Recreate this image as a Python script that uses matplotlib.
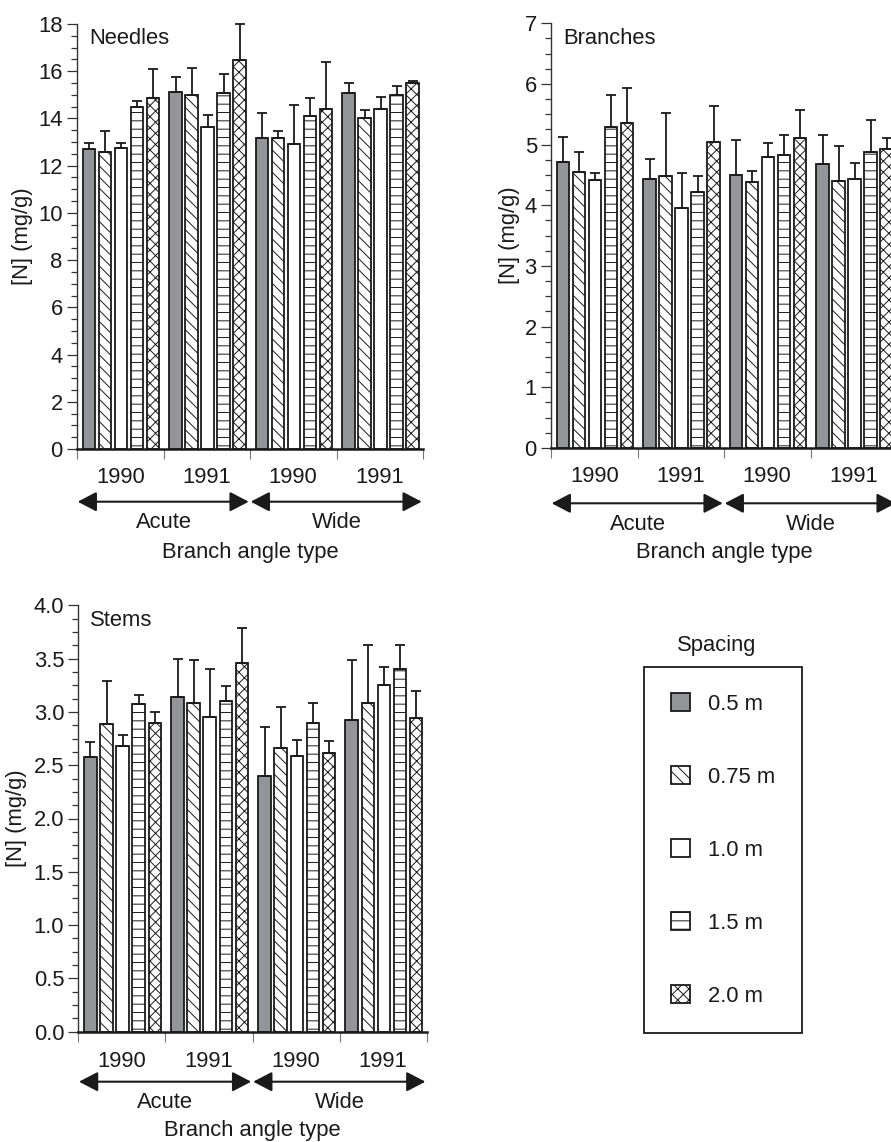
import matplotlib.pyplot as plt
import numpy as np
from matplotlib.ticker import MultipleLocator, FormatStrFormatter

plt.rcParams['font.family'] = ['Liberation Sans', 'DejaVu Sans']
plt.rcParams['hatch.linewidth'] = 0.7

# groups along x: Acute 1990, Acute 1991, Wide 1990, Wide 1991
years = ['1990', '1991', '1990', '1991']
angle_types = ['Acute', 'Wide']
spacings = ['0.5 m', '0.75 m', '1.0 m', '1.5 m', '2.0 m']

# one row per spacing, one value per group
needles_mean = [[12.70, 15.10, 13.19, 15.07],
                [12.60, 15.00, 13.19, 14.01],
                [12.73, 13.63, 12.90, 14.39],
                [14.50, 15.08, 14.12, 15.01],
                [14.86, 16.49, 14.42, 15.49]]
needles_err = [[0.27, 0.67, 1.05, 0.45],
               [0.85, 1.12, 0.26, 0.34],
               [0.25, 0.53, 1.67, 0.51],
               [0.23, 0.82, 0.76, 0.38],
               [1.25, 1.51, 1.98, 0.10]]

branches_mean = [[4.71, 4.43, 4.50, 4.68],
                 [4.55, 4.49, 4.38, 4.40],
                 [4.41, 3.96, 4.80, 4.43],
                 [5.29, 4.22, 4.83, 4.88],
                 [5.36, 5.04, 5.11, 4.93]]
branches_err = [[0.42, 0.33, 0.58, 0.48],
                [0.33, 1.03, 0.19, 0.57],
                [0.12, 0.57, 0.22, 0.27],
                [0.52, 0.27, 0.33, 0.53],
                [0.57, 0.60, 0.46, 0.18]]

stems_mean = [[2.58, 3.14, 2.40, 2.92],
              [2.89, 3.08, 2.66, 3.08],
              [2.68, 2.95, 2.59, 3.25],
              [3.07, 3.10, 2.90, 3.40],
              [2.90, 3.46, 2.61, 2.94]]
stems_err = [[0.14, 0.36, 0.46, 0.57],
             [0.40, 0.41, 0.39, 0.55],
             [0.10, 0.45, 0.15, 0.17],
             [0.09, 0.14, 0.18, 0.23],
             [0.10, 0.33, 0.12, 0.26]]

fills = ['#939598', 'white', 'white', 'white', 'white']
hatches = [None, '\\\\\\', None, '--', 'xxx']
INK = '#1a1a1a'
FS = 15.8

W, H = 891, 1142
fig = plt.figure(figsize=(W / 100, H / 100), dpi=100)


def px_axes(left, right, top, bottom):
    return fig.add_axes([left / W, 1 - bottom / H, (right - left) / W, (bottom - top) / H])


def draw_panel(ax, means, errs, ymax, major, minor, fmt, title, ylab_x, offs):
    bars = []
    for k in range(5):
        x = np.arange(4) + 0.139 + k * 0.185
        b = ax.bar(x, means[k], width=0.145, color=fills[k], hatch=hatches[k],
                   edgecolor=INK, linewidth=1.3, label=spacings[k], zorder=2)
        bars.append(b)
        ax.errorbar(x, means[k], yerr=[np.zeros(4), errs[k]], fmt='none', ecolor=INK,
                    elinewidth=1.3, capsize=3.6, capthick=1.3, zorder=3, clip_on=False)
    ax.set_xlim(0, 4)
    ax.set_ylim(0, ymax)
    for s in ['top', 'right']:
        ax.spines[s].set_visible(False)
    ax.spines['left'].set_linewidth(1.0)
    ax.spines['left'].set_color('#333333')
    ax.spines['bottom'].set_linewidth(1.8)
    ax.spines['bottom'].set_color(INK)

    ax.yaxis.set_major_locator(MultipleLocator(major))
    ax.yaxis.set_minor_locator(MultipleLocator(minor))
    ax.yaxis.set_major_formatter(FormatStrFormatter(fmt))
    ax.tick_params(axis='y', which='major', length=7.5, width=0.9, color='#333333',
                   labelsize=FS, labelcolor=INK, pad=2.7)
    ax.tick_params(axis='y', which='minor', length=4.3, width=0.9, color='#333333')
    ax.set_xticks(range(5))
    ax.set_xticklabels([])
    ax.tick_params(axis='x', length=7.5, width=0.8, color='#777777')

    ax.set_ylabel('[N] (mg/g)', fontsize=FS, color=INK)
    ax.yaxis.set_label_coords(ylab_x, 0.5)
    ax.text(0.034, 0.952, title, transform=ax.transAxes, fontsize=FS, color=INK, va='baseline')

    h_px = ax.get_position().height * H
    tr = ax.get_xaxis_transform()
    yr, ya, yt, yb = [-o / h_px for o in offs]
    for g, lab in enumerate(years):
        ax.text(g + 0.5, yr, lab, transform=tr, ha='center', va='baseline', fontsize=FS, color=INK)
    for i, lab in enumerate(angle_types):
        x0, x1 = 2 * i + 0.008, 2 * i + 1.985
        ax.annotate('', xy=(x1, ya), xytext=(x0, ya), xycoords=tr, textcoords=tr,
                    arrowprops=dict(arrowstyle='<|-|>,head_length=11.5,head_width=6',
                                    lw=1.5, color=INK, shrinkA=0, shrinkB=0, mutation_scale=1),
                    annotation_clip=False)
        ax.text(2 * i + 1, yt, lab, transform=tr, ha='center', va='baseline', fontsize=FS, color=INK)
    ax.text(2, yb, 'Branch angle type', transform=tr, ha='center', va='baseline', fontsize=FS, color=INK)
    return bars


ax1 = px_axes(77, 423, 24, 449)
draw_panel(ax1, needles_mean, needles_err, 18, 2, 0.5, '%d', 'Needles', -0.127,
           (34.3, 52.7, 79.3, 109.3))

ax2 = px_axes(551, 897, 23.3, 448)
draw_panel(ax2, branches_mean, branches_err, 7, 1, 0.25, '%d', 'Branches', -0.09,
           (34.3, 55.3, 82, 110.3))

ax3 = px_axes(78.3, 426.7, 605.3, 1031.7)
bars = draw_panel(ax3, stems_mean, stems_err, 4.0, 0.5, 0.125, '%.1f', 'Stems', -0.147,
                  (35, 50, 76.6, 104.3))

leg = fig.legend(handles=bars, labels=spacings, loc='upper left',
                 bbox_to_anchor=(644.3 / W, 1 - 666.7 / H), borderaxespad=0,
                 fontsize=FS, frameon=True, fancybox=False, framealpha=1,
                 edgecolor=INK, borderpad=1.2, labelspacing=2.34,
                 handlelength=0.9, handleheight=0.9, handletextpad=0.82)
leg.get_frame().set_linewidth(1.3)
for t in leg.get_texts():
    t.set_color(INK)
fig.text(716.7 / W, 1 - 645 / H, 'Spacing', ha='center', va='center', fontsize=FS, color=INK)

fig.savefig('out.png', dpi=100)
